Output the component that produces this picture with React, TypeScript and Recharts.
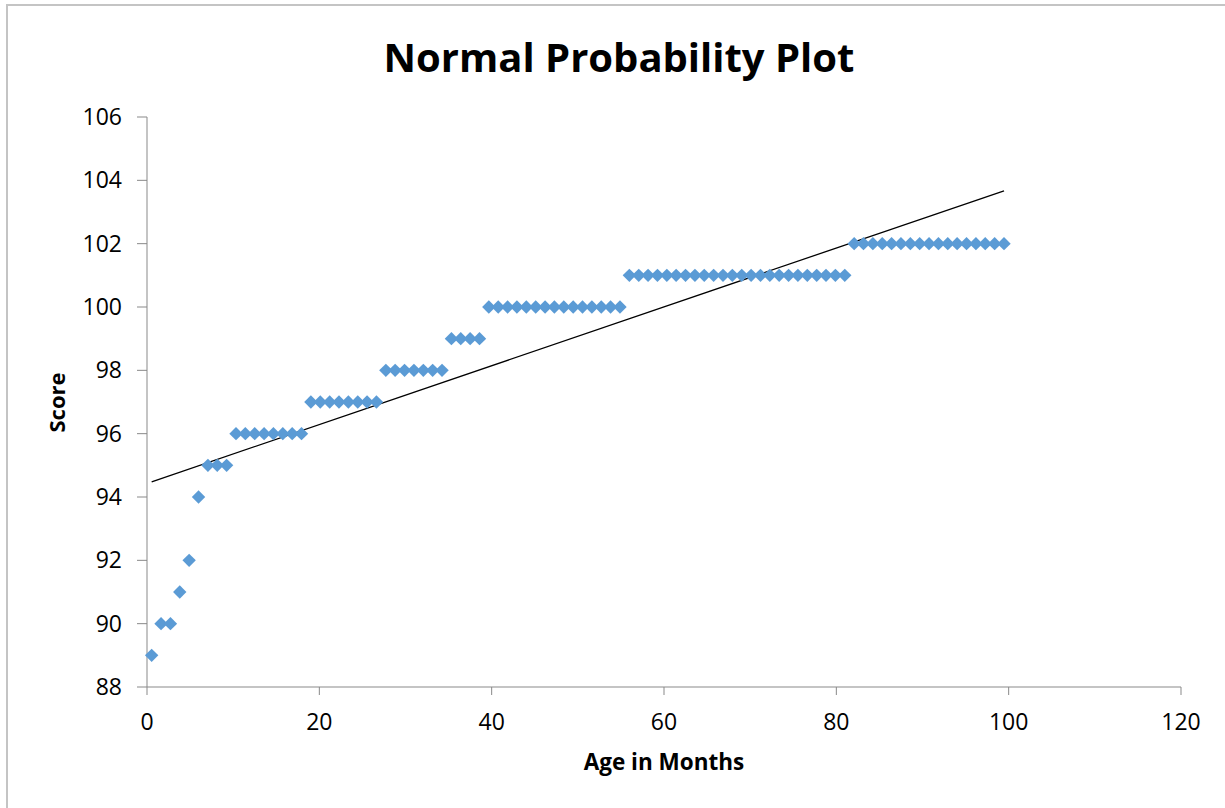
import { ReferenceLine, Scatter, ScatterChart, XAxis, YAxis } from 'recharts';

// percentile (x) of each ranked observation, as plotted
const percentiles = [
  0.54, 1.63, 2.72, 3.8, 4.89, 5.98, 7.07, 8.15, 9.24, 10.33,
  11.41, 12.5, 13.59, 14.67, 15.76, 16.85, 17.93, 19.02, 20.11, 21.2,
  22.28, 23.37, 24.46, 25.54, 26.63, 27.72, 28.8, 29.89, 30.98, 32.07,
  33.15, 34.24, 35.33, 36.41, 37.5, 38.59, 39.67, 40.76, 41.85, 42.93,
  44.02, 45.11, 46.2, 47.28, 48.37, 49.46, 50.54, 51.63, 52.72, 53.8,
  54.89, 55.98, 57.07, 58.15, 59.24, 60.33, 61.41, 62.5, 63.59, 64.67,
  65.76, 66.85, 67.93, 69.02, 70.11, 71.2, 72.28, 73.37, 74.46, 75.54,
  76.63, 77.72, 78.8, 79.89, 80.98, 82.07, 83.15, 84.24, 85.33, 86.41,
  87.5, 88.59, 89.67, 90.76, 91.85, 92.93, 94.02, 95.11, 96.2, 97.28,
  98.37, 99.46,
];

// sorted scores
const scores = [
  89, 90, 90, 91, 92, 94, 95, 95, 95,
  96, 96, 96, 96, 96, 96, 96, 96,
  97, 97, 97, 97, 97, 97, 97, 97,
  98, 98, 98, 98, 98, 98, 98,
  99, 99, 99, 99,
  100, 100, 100, 100, 100, 100, 100, 100, 100, 100, 100, 100, 100, 100, 100,
  101, 101, 101, 101, 101, 101, 101, 101, 101, 101, 101, 101,
  101, 101, 101, 101, 101, 101, 101, 101, 101, 101, 101, 101,
  102, 102, 102, 102, 102, 102, 102, 102, 102, 102, 102, 102, 102, 102, 102, 102, 102,
];

const xTicks = [0, 20, 40, 60, 80, 100, 120];
const yTicks = [88, 90, 92, 94, 96, 98, 100, 102, 104, 106];

// trend line end points
const trendX = [0.54, 99.46];
const trendY = [94.48, 103.67];

const points = percentiles.map((x, i) => ({ x, y: scores[i] }));

const FONT = '"Open Sans", "Liberation Sans", sans-serif';
const AXIS = '#898989';

const Diamond = (props: any) => {
  const { cx, cy } = props;
  const r = 6.7;
  return (
    <polygon
      points={`${cx},${cy - r} ${cx + r},${cy} ${cx},${cy + r} ${cx - r},${cy}`}
      fill='#5B9BD5'
    />
  );
};

export default function App() {
  return (
    <div
      style={{
        position: 'fixed',
        left: 0,
        top: 0,
        width: 1225,
        height: 808,
        background: '#fff',
        overflow: 'hidden',
        fontFamily: FONT,
      }}
    >
      {/* chart frame, only left/top edges are visible */}
      <div
        style={{
          position: 'absolute',
          left: 6,
          top: 4,
          width: 1400,
          height: 1000,
          borderLeft: '2px solid #c4c4c4',
          borderTop: '2px solid #c4c4c4',
        }}
      />
      <div style={{ position: 'absolute', left: 0, top: 0 }}>
        <ScatterChart
          width={1225}
          height={808}
          margin={{ top: 117, right: 44, bottom: 0, left: 0 }}
        >
          <XAxis
            type='number'
            dataKey='x'
            domain={[0, 120]}
            ticks={xTicks}
            interval={0}
            height={121}
            tickSize={8}
            tickMargin={19}
            axisLine={{ stroke: AXIS }}
            tickLine={{ stroke: AXIS }}
            tick={{ fill: '#000', fontSize: 23, fontFamily: FONT }}
          />
          <YAxis
            type='number'
            dataKey='y'
            domain={[88, 106]}
            ticks={yTicks}
            interval={0}
            width={147}
            tickSize={10}
            tickMargin={15}
            axisLine={{ stroke: AXIS }}
            tickLine={{ stroke: AXIS }}
            tick={{ fill: '#000', fontSize: 23, fontFamily: FONT }}
          />
          <Scatter data={points} shape={Diamond} isAnimationActive={false} />
          <ReferenceLine
            segment={[
              { x: trendX[0], y: trendY[0] },
              { x: trendX[1], y: trendY[1] },
            ]}
            stroke='#000'
            strokeWidth={1.3}
          />
        </ScatterChart>
      </div>
      <svg
        width={1225}
        height={808}
        style={{ position: 'absolute', left: 0, top: 0, pointerEvents: 'none' }}
      >
        <text
          x={619}
          y={72}
          textAnchor='middle'
          fontSize={40}
          fontWeight='bold'
          fontFamily={FONT}
          fill='#000'
        >
          Normal Probability Plot
        </text>
        <text
          x={664}
          y={770}
          textAnchor='middle'
          fontSize={22.5}
          fontWeight='bold'
          fontFamily={FONT}
          fill='#000'
        >
          Age in Months
        </text>
        <text
          transform='translate(65, 402.5) rotate(-90)'
          textAnchor='middle'
          fontSize={22}
          fontWeight='bold'
          fontFamily={FONT}
          fill='#000'
        >
          Score
        </text>
      </svg>
    </div>
  );
}
